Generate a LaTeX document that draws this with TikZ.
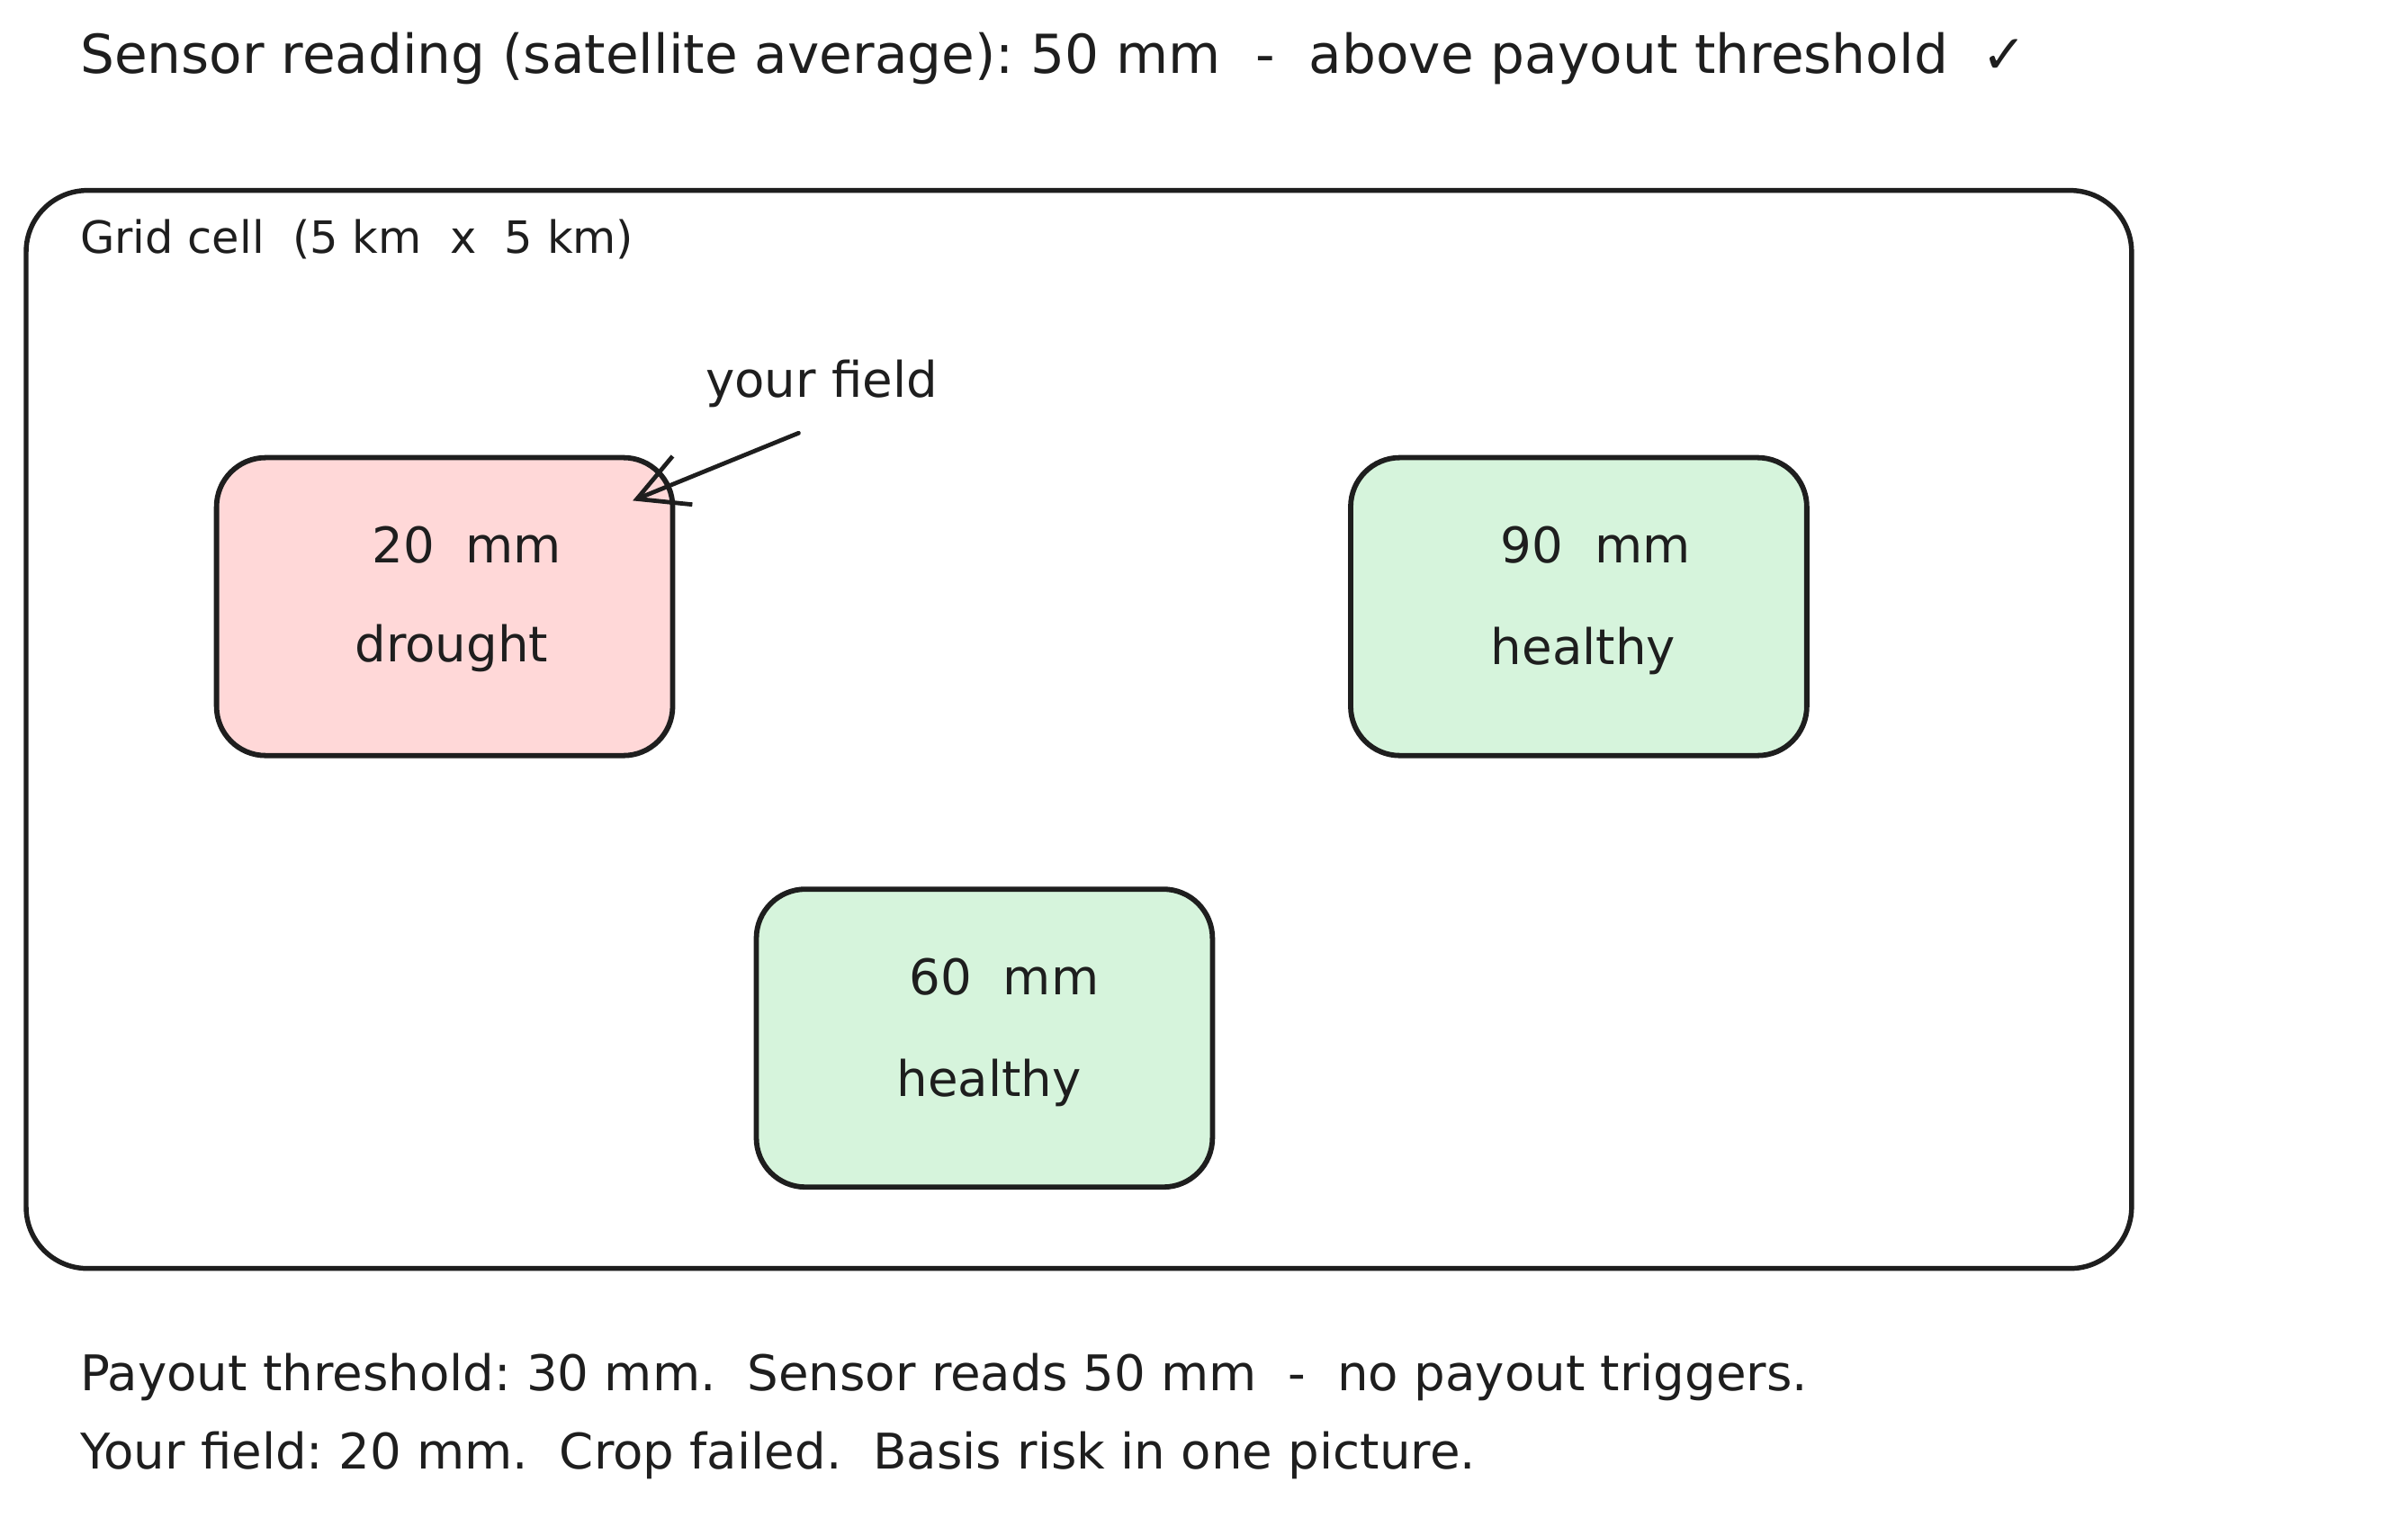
\documentclass[tikz,border=0pt]{standalone}
\usepackage{fontspec}
\setmainfont{DejaVu Sans}
\usetikzlibrary{arrows.meta}
\definecolor{ink}{HTML}{1E1E1E}
\definecolor{redfill}{HTML}{FFD8D8}
\definecolor{greenfill}{HTML}{D6F4DC}
\frenchspacing
\begin{document}
\begin{tikzpicture}[x=1pt,y=-1pt,
  txt/.style={font=\fontsize{32}{38}\selectfont, text=ink, inner sep=0pt},
  titletxt/.style={font=\fontsize{35}{42}\selectfont, text=ink, inner sep=0pt},
  smalltxt/.style={font=\fontsize{29}{34}\selectfont, text=ink, inner sep=0pt},
  fieldbox/.style={draw=ink, line width=3.4pt, rounded corners=32pt, minimum width=297pt, minimum height=194pt, inner sep=0pt},
  gridbox/.style={draw=ink, line width=3.2pt, rounded corners=40pt, minimum width=1371pt, minimum height=702pt, inner sep=0pt},
  pointer/.style={draw=ink, line width=2.8pt, line cap=round, -{Straight Barb[length=32pt,width=34pt,line width=2.8pt]}}
]
\useasboundingbox[fill=white] (0,0) rectangle (1568,988);

\node[titletxt, anchor=west] (title) at (52,38) {Sensor reading (satellite average): 50 mm \ - \ above payout threshold \ ✓};

\node[gridbox] (grid) at (702.5,475) {};
\node[smalltxt, anchor=west] (gridlbl) at (52,156) {Grid cell \ (5 km \ x \ 5 km)};

\node[fieldbox, fill=redfill] (red) at (289.5,395) {};
\node[fieldbox, fill=greenfill] (green1) at (1028,395) {};
\node[fieldbox, fill=greenfill] (green2) at (641,676) {};

\node[txt] (redv) at (304,355) {20 \ mm};
\node[txt] (redl) at (294,422) {drought};
\node[txt] (g1v) at (1039,355) {90 \ mm};
\node[txt] (g1l) at (1031,424) {healthy};
\node[txt] (g2v) at (654,636) {60 \ mm};
\node[txt] (g2l) at (644,705) {healthy};

\node[txt] (yf) at (535,250) {your field};
\coordinate (yfstart) at (520,282);
\coordinate (yftip) at (412,326);
\draw[pointer] (yfstart) -- (yftip);

\node[txt, anchor=west] (foot1) at (52,897) {Payout threshold: 30 mm. \ Sensor reads 50 mm \ - \ no payout triggers.};
\node[txt, anchor=west] (foot2) at (52,948) {Your field: 20 mm. \ Crop failed. \ Basis risk in one picture.};
\end{tikzpicture}
\end{document}
